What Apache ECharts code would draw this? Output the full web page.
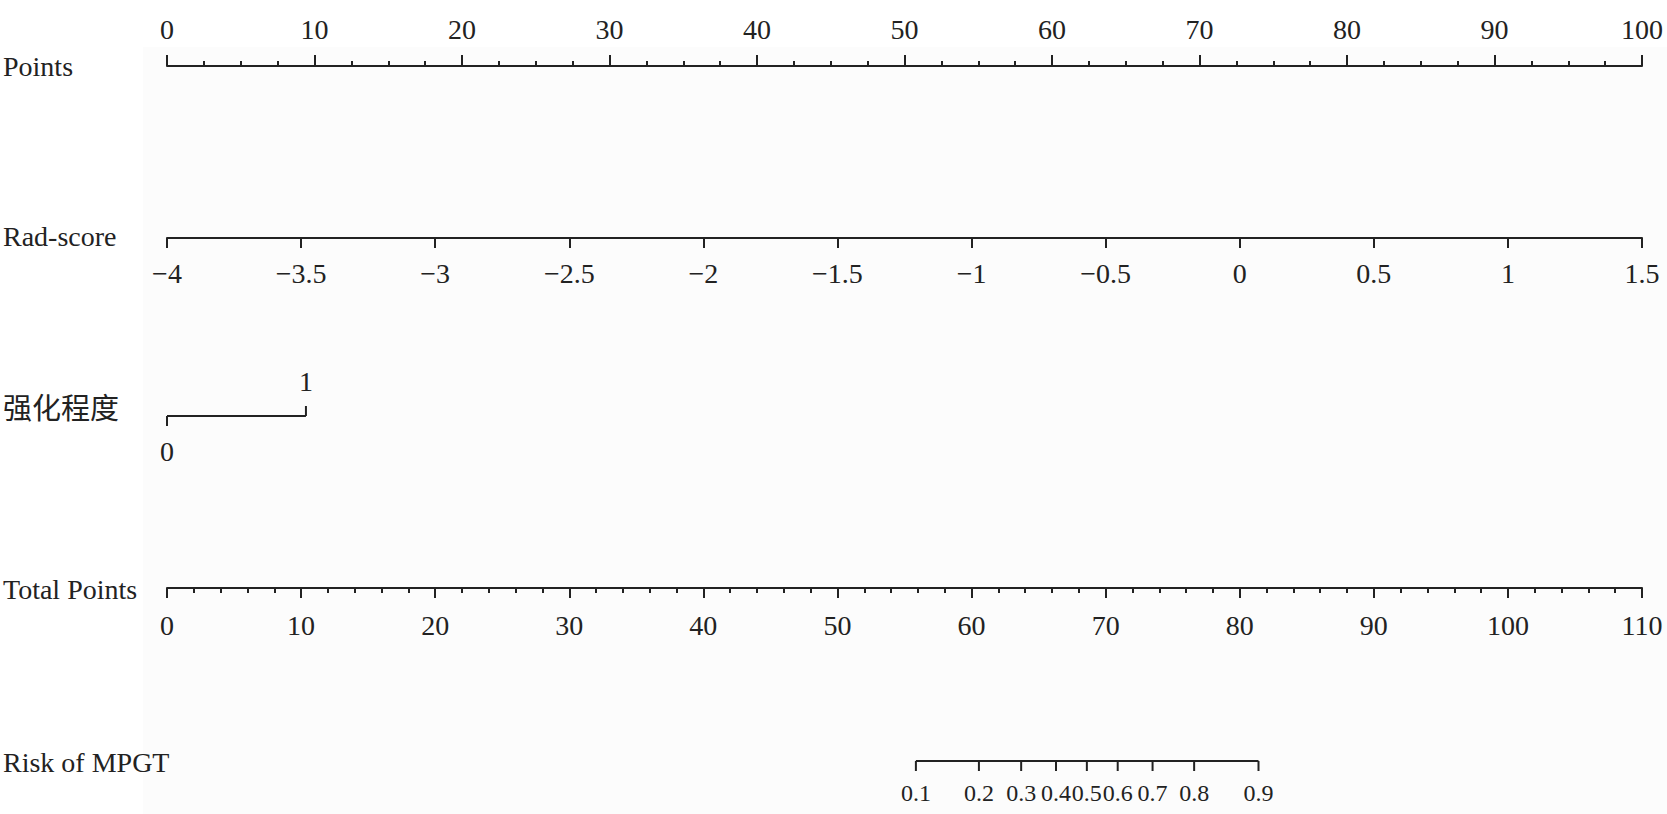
<!DOCTYPE html>
<html lang="zh">
<head>
    <meta charset="UTF-8">
    <title>Nomogram - Risk of MPGT</title>
    <script src="https://cdn.jsdelivr.net/npm/echarts@6/dist/echarts.min.js"></script>
    <style>html, body { margin: 0; padding: 0; background: #fff; }</style>
</head>
<body>
    <div id="main" style="width: 1667px;height:814px;"></div>
    <script type="text/javascript">
        // data
        var rowNames = ['Points', 'Rad-score', '强化程度', 'Total Points', 'Risk of MPGT'];
        var pointsRange = [0, 100];
        var radScoreRange = [-4, 1.5];
        var enhanceLabels = ['0', '1'];
        var enhancePoints = [0, 9.42];           // points given by 强化程度 = 0 / 1
        var totalPointsRange = [0, 110];
        var riskLabels = ['0.1', '0.2', '0.3', '0.4', '0.5', '0.6', '0.7', '0.8', '0.9'];
        var riskTotalPoints = [55.85, 60.55, 63.7, 66.3, 68.6, 70.9, 73.5, 76.6, 81.4];

        // layout
        var LEFT = 167, RIGHT = 25;
        var rowY = [65, 238, 416, 588, 761];
        var nameY = [66, 236, 409, 589, 762];
        var INK = '#222';
        var SERIF = "'Liberation Serif', 'Noto Sans CJK SC', serif";

        var myChart = echarts.init(document.getElementById('main'), null, { renderer: 'svg' });

        function grid(top) {
            return { left: LEFT, right: RIGHT, top: top, height: 1, outerBoundsMode: 'none', containLabel: false };
        }
        var lineStyle = { color: INK, width: 2 };
        var labelStyle = { color: INK, fontSize: 28, fontFamily: SERIF };

        var grids = [
            grid(rowY[0]),
            grid(rowY[1] - 1),
            grid(rowY[2] - 1),
            grid(rowY[3] - 1),
            grid(rowY[4] - 1)
        ];
        var yAxes = grids.map(function (g, i) {
            return { gridIndex: i, type: 'value', min: 0, max: 1, show: false };
        });

        var xAxes = [
            {
                gridIndex: 0, type: 'value', position: 'top',
                min: pointsRange[0], max: pointsRange[1], interval: 10,
                axisLine: { show: true, lineStyle: lineStyle },
                axisTick: { show: true, length: 11, lineStyle: lineStyle },
                minorTick: { show: true, splitNumber: 4, length: 5, lineStyle: lineStyle },
                splitLine: { show: false },
                axisLabel: Object.assign({ margin: 22 }, labelStyle)
            },
            {
                gridIndex: 1, type: 'value', position: 'bottom',
                min: radScoreRange[0], max: radScoreRange[1], interval: 0.5,
                axisLine: { show: true, lineStyle: lineStyle },
                axisTick: { show: true, length: 10, lineStyle: lineStyle },
                splitLine: { show: false },
                axisLabel: Object.assign({
                    margin: 21,
                    formatter: function (v) { return String(v).replace('-', '\u2212'); }
                }, labelStyle)
            },
            {
                gridIndex: 2, type: 'value', min: pointsRange[0], max: pointsRange[1], show: false
            },
            {
                gridIndex: 3, type: 'value', position: 'bottom',
                min: totalPointsRange[0], max: totalPointsRange[1], interval: 10,
                axisLine: { show: true, lineStyle: lineStyle },
                axisTick: { show: true, length: 10, lineStyle: lineStyle },
                minorTick: { show: true, splitNumber: 5, length: 5, lineStyle: lineStyle },
                splitLine: { show: false },
                axisLabel: Object.assign({ margin: 23 }, labelStyle)
            },
            {
                gridIndex: 4, type: 'value', min: totalPointsRange[0], max: totalPointsRange[1], show: false
            }
        ];

        // ticks + labels for the two short scales
        function tickRenderer(labels, upFn, tickLen, labelGap, fontSize) {
            return function (params, api) {
                var pt = api.coord([api.value(0), 0]);
                var idx = api.value(2);
                var dir = upFn(idx) ? -1 : 1;
                return {
                    type: 'group',
                    children: [
                        {
                            type: 'line',
                            shape: { x1: pt[0], y1: pt[1], x2: pt[0], y2: pt[1] + dir * tickLen },
                            style: { stroke: INK, lineWidth: 2 }
                        },
                        {
                            type: 'text',
                            x: pt[0], y: pt[1] + dir * labelGap,
                            style: {
                                text: labels[idx], fill: INK, fontSize: fontSize, fontFamily: SERIF,
                                align: 'center', verticalAlign: 'middle'
                            }
                        }
                    ]
                };
            };
        }

        var series = [
            {
                type: 'line', xAxisIndex: 2, yAxisIndex: 2, symbol: 'none', silent: true,
                lineStyle: { color: INK, width: 2 },
                data: [[enhancePoints[0], 0], [enhancePoints[enhancePoints.length - 1], 0]]
            },
            {
                type: 'custom', xAxisIndex: 2, yAxisIndex: 2, silent: true,
                renderItem: tickRenderer(enhanceLabels, function (i) { return i === 1; }, 10, 35, 28),
                data: enhancePoints.map(function (p, i) { return [p, 0, i]; })
            },
            {
                type: 'line', xAxisIndex: 4, yAxisIndex: 4, symbol: 'none', silent: true,
                lineStyle: { color: INK, width: 2 },
                data: [[riskTotalPoints[0], 0], [riskTotalPoints[riskTotalPoints.length - 1], 0]]
            },
            {
                type: 'custom', xAxisIndex: 4, yAxisIndex: 4, silent: true,
                renderItem: tickRenderer(riskLabels, function () { return false; }, 10, 32, 24),
                data: riskTotalPoints.map(function (p, i) { return [p, 0, i]; })
            }
        ];

        var graphics = [
            {
                type: 'rect', z: -10, silent: true,
                shape: { x: 143, y: 47, width: 1524, height: 767 },
                style: { fill: '#fcfcfc' }
            }
        ];
        rowNames.forEach(function (name, i) {
            graphics.push({
                type: 'text', x: 3, y: nameY[i], silent: true,
                style: {
                    text: name, fill: INK, fontFamily: SERIF,
                    fontSize: i === 2 ? 29 : 28,
                    align: 'left', verticalAlign: 'middle'
                }
            });
        });

        var option = {
            animation: false,
            backgroundColor: '#fff',
            grid: grids,
            xAxis: xAxes,
            yAxis: yAxes,
            series: series,
            graphic: graphics
        };
        myChart.setOption(option);
    </script>
</body>
</html>
